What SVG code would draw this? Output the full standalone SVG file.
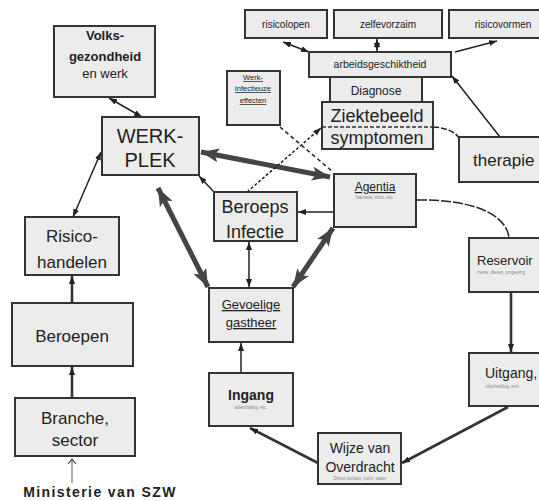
<svg xmlns="http://www.w3.org/2000/svg" width="539" height="501" viewBox="0 0 539 501">
<defs>
<marker id="a" viewBox="0 0 8 6" refX="8" refY="3" markerWidth="8" markerHeight="6" markerUnits="userSpaceOnUse" orient="auto-start-reverse"><path d="M0,0 L8,3 L0,6 z" fill="#222"/></marker>
<marker id="big" viewBox="0 0 18 14" refX="18" refY="7" markerWidth="18" markerHeight="14" markerUnits="userSpaceOnUse" orient="auto-start-reverse"><path d="M0,0 L18,7 L0,14 L4,7 z" fill="#444"/></marker>
<marker id="open" viewBox="0 0 10 8" refX="5" refY="4" markerWidth="10" markerHeight="8" markerUnits="userSpaceOnUse" orient="auto"><path d="M0,0 L5,4 L0,8" fill="none" stroke="#555" stroke-width="1.3"/></marker>
</defs>
<style>
.box{fill:#ececec;stroke:#333;stroke-width:2}
text{font-family:"Liberation Sans",Arial,sans-serif;fill:#222;text-anchor:middle}
.sub{font-size:4.5px;fill:#888}
.thin{stroke:#222;stroke-width:1.5;fill:none}
.med{stroke:#333;stroke-width:2.6;fill:none}
.thick{stroke:#444;stroke-width:5;fill:none}
</style>
<rect width="539" height="501" fill="#fff"/>

<g id="connectors">
<line class="thin" x1="109" y1="98" x2="142" y2="117" marker-start="url(#a)" marker-end="url(#a)" stroke-width="2"/>
<line class="thin" x1="101" y1="152" x2="73" y2="217" marker-start="url(#a)" marker-end="url(#a)"/>
<line class="med" x1="72" y1="303" x2="72" y2="276" marker-end="url(#a)"/>
<line class="med" x1="72" y1="398" x2="72" y2="367" marker-end="url(#a)"/>
<line x1="72" y1="483" x2="72" y2="459" stroke="#777" stroke-width="1.2" marker-end="url(#open)"/>
<line class="thick" x1="201" y1="152" x2="330" y2="177" marker-start="url(#big)" marker-end="url(#big)"/>
<line class="thick" x1="158" y1="188" x2="208" y2="287" marker-start="url(#big)" marker-end="url(#big)"/>
<line class="thick" x1="333" y1="228" x2="293" y2="287" marker-start="url(#big)" marker-end="url(#big)"/>
<line class="thin" x1="214" y1="192" x2="199" y2="176" marker-end="url(#a)"/>
<line class="thin" x1="334" y1="212" x2="298" y2="212" marker-end="url(#a)"/>
<line class="thin" x1="249" y1="242" x2="249" y2="287" marker-start="url(#a)" marker-end="url(#a)"/>
<line class="thin" x1="241" y1="373" x2="241" y2="343" marker-end="url(#a)"/>
<line class="med" x1="318" y1="463" x2="250" y2="428" marker-end="url(#a)"/>
<line class="med" x1="508" y1="407" x2="402" y2="463" marker-end="url(#a)"/>
<line class="med" x1="511" y1="292" x2="511" y2="352" marker-end="url(#a)"/>
<path class="thin" d="M417,200 C462,199 506,210 509,238" stroke-dasharray="10 2"/>
<line class="thin" x1="280" y1="127" x2="333" y2="172" stroke-dasharray="4 3"/>
<line class="thin" x1="247" y1="192" x2="321" y2="128" stroke-dasharray="3 2" stroke-width="1.2" marker-end="url(#a)"/>
<path class="thin" d="M433,127 Q452,128 459,138" stroke-dasharray="6 2"/>
<line class="thin" x1="500" y1="137" x2="452" y2="76" marker-end="url(#a)"/>
<line class="thin" x1="309" y1="52" x2="283" y2="42" stroke-width="2" marker-start="url(#a)" marker-end="url(#a)"/>
<line class="thin" x1="377" y1="51" x2="377" y2="39" marker-start="url(#a)" marker-end="url(#a)"/>
<line class="thin" x1="455" y1="52" x2="497" y2="41" stroke-width="2" marker-end="url(#a)"/>
</g>

<g id="volksgezondheid">
<rect class="box" x="54" y="26" width="101" height="71"/>
<text x="105" y="40" font-size="13" font-weight="bold">Volks-</text>
<text x="105" y="61" font-size="13" font-weight="bold">gezondheid</text>
<text x="105" y="78" font-size="13">en werk</text>
</g>

<g id="werkplek">
<rect class="box" x="102" y="117" width="97" height="58"/>
<text x="150" y="143" font-size="20">WERK-</text>
<text x="150" y="167" font-size="20">PLEK</text>
</g>

<g id="risicohandelen">
<rect class="box" x="25" y="217" width="94" height="58"/>
<text x="72" y="242" font-size="17">Risico-</text>
<text x="72" y="268" font-size="17">handelen</text>
</g>

<g id="beroepen">
<rect class="box" x="12" y="303" width="121" height="63"/>
<text x="72" y="342" font-size="17">Beroepen</text>
</g>

<g id="branche">
<rect class="box" x="15" y="398" width="120" height="58"/>
<text x="75" y="424" font-size="17">Branche,</text>
<text x="75" y="446" font-size="17">sector</text>
</g>

<g id="ministerie">
<text x="100" y="497" font-size="14" font-weight="bold" font-family="DejaVu Sans,sans-serif" letter-spacing="1.4">Ministerie van SZW</text>
</g>

<g id="risicolopen">
<rect class="box" x="245" y="10" width="82" height="28"/>
<text x="286" y="28" font-size="10">risicolopen</text>
</g>

<g id="zelf">
<rect class="box" x="334" y="10" width="108" height="28"/>
<text x="388" y="28" font-size="10">zelfevorzaim</text>
</g>

<g id="risicovormen">
<rect class="box" x="449" y="10" width="100" height="28"/>
<text x="503" y="28" font-size="10">risicovormen</text>
</g>

<g id="arbeidsgeschiktheid">
<rect class="box" x="309" y="52" width="142" height="25"/>
<text x="380" y="68" font-size="10.5">arbeidsgeschiktheid</text>
</g>

<g id="diagnose">
<rect class="box" x="330" y="77" width="92" height="25"/>
<text x="376" y="95" font-size="12">Diagnose</text>
</g>

<g id="ziektebeeld">
<rect class="box" x="322" y="102" width="111" height="47"/>
<line x1="322" y1="127" x2="433" y2="127" stroke="#333" stroke-width="1.5" stroke-dasharray="4 2"/>
<text x="377" y="122" font-size="18">Ziektebeeld</text>
<text x="377" y="144" font-size="18">symptomen</text>
</g>

<g id="werkinfect">
<rect class="box" x="227" y="71" width="53" height="54"/>
<text x="253" y="80" font-size="7.5" text-decoration="underline">Werk-</text>
<text x="253" y="91" font-size="7.5" text-decoration="underline">infectieuze</text>
<text x="253" y="103" font-size="7.5" text-decoration="underline">effecten</text>
</g>

<g id="therapie">
<rect class="box" x="459" y="137" width="90" height="45"/>
<text x="473" y="166" font-size="17" style="text-anchor:start">therapie</text>
</g>

<g id="agentia">
<rect class="box" x="334" y="174" width="82" height="53"/>
<text x="375" y="191" font-size="12" text-decoration="underline">Agentia</text>
<text class="sub" x="375" y="199">bacterie, virus, etc.</text>
</g>

<g id="beroepsinfectie">
<rect class="box" x="214" y="192" width="83" height="49"/>
<text x="255" y="213" font-size="18">Beroeps</text>
<text x="255" y="238" font-size="18">Infectie</text>
</g>

<g id="gevoelige">
<rect class="box" x="209" y="288" width="84" height="54"/>
<text x="251" y="309" font-size="13" text-decoration="underline">Gevoelige</text>
<text x="251" y="327" font-size="13" text-decoration="underline">gastheer</text>
</g>

<g id="reservoir">
<rect class="box" x="469" y="238" width="80" height="54"/>
<text x="477" y="265" font-size="13" style="text-anchor:start">Reservoir</text>
<text class="sub" x="477" y="274" style="text-anchor:start">mens, dieren, omgeving</text>
</g>

<g id="uitgang">
<rect class="box" x="469" y="353" width="80" height="53"/>
<text x="485" y="378" font-size="14" style="text-anchor:start">Uitgang,</text>
<text class="sub" x="485" y="388" style="text-anchor:start">uitscheiding, enz.</text>
</g>

<g id="ingang">
<rect class="box" x="209" y="373" width="84" height="53"/>
<text x="251" y="400" font-size="14" font-weight="bold">Ingang</text>
<text class="sub" x="251" y="409">ademhaling, etc.</text>
</g>

<g id="overdracht">
<rect class="box" x="318" y="433" width="83" height="51"/>
<text x="360" y="453" font-size="14">Wijze van</text>
<text x="360" y="472" font-size="14">Overdracht</text>
<text class="sub" x="360" y="480">Direct contact, lucht, water</text>
</g>
</svg>
